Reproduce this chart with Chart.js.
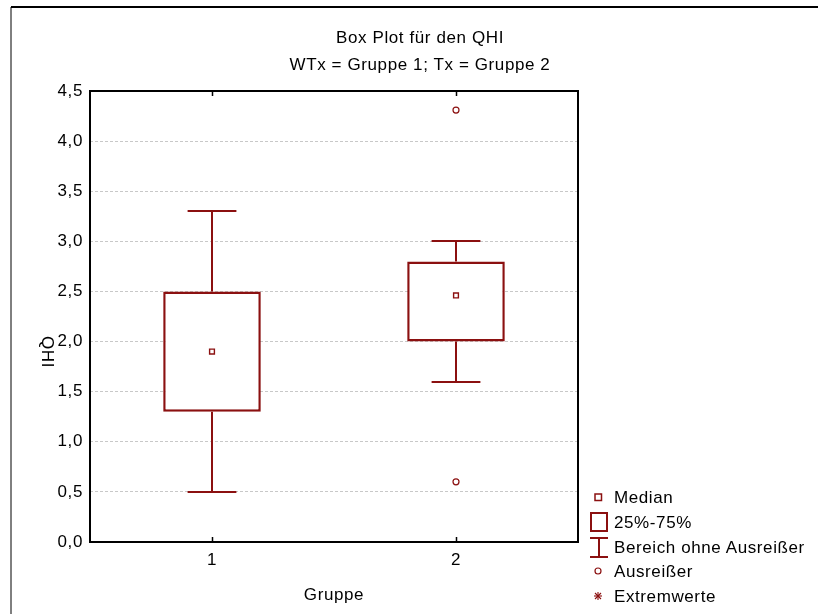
<!DOCTYPE html>
<html>
<head>
<meta charset="utf-8">
<script src="https://cdn.jsdelivr.net/npm/chart.js@4"></script>
<style>
  html, body { margin: 0; padding: 0; background: #fff; }
  #wrap { position: relative; width: 818px; height: 614px; overflow: hidden; }
  #c { position: absolute; left: 0; top: 0; }
  #ov { position: absolute; left: 0; top: 0; pointer-events: none; }
  #ov text { font-family: "Liberation Sans", Arial, sans-serif; font-size: 17px; letter-spacing: 0.6px; fill: #000; }
</style>
</head>
<body>
<div id="wrap">
  <canvas id="c" width="818" height="614"></canvas>
  <svg id="ov" width="818" height="614" xmlns="http://www.w3.org/2000/svg">
    <line x1="11" y1="7" x2="818" y2="7" stroke="#000" stroke-width="2"/>
    <line x1="11" y1="7" x2="11" y2="614" stroke="#000" stroke-width="1"/>
    <text x="420" y="37" text-anchor="middle" dominant-baseline="central">Box Plot für den QHI</text>
    <text x="420" y="64" text-anchor="middle" dominant-baseline="central">WTx = Gruppe 1; Tx = Gruppe 2</text>
    <text transform="translate(47,352) rotate(90)" text-anchor="middle" dominant-baseline="central">QHI</text>
    <!-- legend icons -->
    <rect x="595" y="494" width="6.5" height="6.5" fill="#fff" stroke="#8b1010" stroke-width="1.5"/>
    <rect x="591" y="513" width="16" height="18" fill="#fff" stroke="#8b1010" stroke-width="2"/>
    <line x1="590" y1="538" x2="608" y2="538" stroke="#8b1010" stroke-width="2"/>
    <line x1="599" y1="538" x2="599" y2="557" stroke="#8b1010" stroke-width="2"/>
    <line x1="590" y1="557" x2="608" y2="557" stroke="#8b1010" stroke-width="2"/>
    <circle cx="598" cy="571" r="3" fill="#fff" stroke="#8b1010" stroke-width="1.2"/>
    <g stroke="#8b1010" stroke-width="1.1">
      <line x1="594" y1="596" x2="602" y2="596"/>
      <line x1="598" y1="592" x2="598" y2="600"/>
      <line x1="595" y1="593" x2="601" y2="599"/>
      <line x1="601" y1="593" x2="595" y2="599"/>
    </g>
    <text x="614" y="497" dominant-baseline="central">Median</text>
    <text x="614" y="522" dominant-baseline="central">25%-75%</text>
    <text x="614" y="547" dominant-baseline="central">Bereich ohne Ausreißer</text>
    <text x="614" y="571" dominant-baseline="central">Ausreißer</text>
    <text x="614" y="596" dominant-baseline="central">Extremwerte</text>
  </svg>
</div>
<script>
// ---- data ----
const categories = ['1', '2'];
const q1Values = [1.3, 2.0];
const q3Values = [2.5, 2.8];
const medianValues = [1.9, 2.46];
const whiskerLow = [0.5, 1.6];
const whiskerHigh = [3.3, 3.0];
const outlierCategories = ['2', '2'];
const outlierValues = [4.31, 0.6];
const yTickValues = [0, 0.5, 1, 1.5, 2, 2.5, 3, 3.5, 4, 4.5];

const BOX_COLOR = '#8b1010';
const FONT = '"Liberation Sans", Arial, sans-serif';

const spacingPlugin = {
  id: 'spacing',
  beforeLayout(chart) { chart.ctx.letterSpacing = '0.6px'; },
  beforeDraw(chart) { chart.ctx.letterSpacing = '0.6px'; }
};

const boxExtras = {
  id: 'boxExtras',
  afterDatasetsDraw(chart) {
    const ctx = chart.ctx;
    const xs = chart.scales.x, ys = chart.scales.y;
    const catW = xs.width / categories.length;
    const capHalf = catW * 0.1;
    ctx.save();
    ctx.strokeStyle = BOX_COLOR;
    ctx.lineWidth = 2;
    ctx.setLineDash([]);
    categories.forEach((c, i) => {
      const x = Math.round(xs.getPixelForValue(i));
      const yLo = Math.round(ys.getPixelForValue(whiskerLow[i]));
      const yHi = Math.round(ys.getPixelForValue(whiskerHigh[i]));
      const yQ1 = ys.getPixelForValue(q1Values[i]);
      const yQ3 = ys.getPixelForValue(q3Values[i]);
      ctx.beginPath();
      ctx.moveTo(x, yQ3); ctx.lineTo(x, yHi);
      ctx.moveTo(x - capHalf, yHi); ctx.lineTo(x + capHalf, yHi);
      ctx.moveTo(x, yQ1); ctx.lineTo(x, yLo);
      ctx.moveTo(x - capHalf, yLo); ctx.lineTo(x + capHalf, yLo);
      ctx.stroke();
    });
    ctx.restore();
  },
  afterDraw(chart) {
    const ctx = chart.ctx;
    const a = chart.chartArea;
    const xs = chart.scales.x;
    ctx.save();
    ctx.strokeStyle = '#000';
    ctx.lineWidth = 2;
    ctx.setLineDash([]);
    ctx.strokeRect(a.left, a.top, a.right - a.left, a.bottom - a.top);
    ctx.beginPath();
    categories.forEach((c, i) => {
      const x = Math.round(xs.getPixelForValue(i)) + 0.5;
      ctx.moveTo(x, a.top); ctx.lineTo(x, a.top + 5);
      ctx.moveTo(x, a.bottom); ctx.lineTo(x, a.bottom - 5);
    });
    ctx.lineWidth = 1.5;
    ctx.stroke();
    ctx.restore();
  }
};

new Chart(document.getElementById('c'), {
  data: {
    labels: categories,
    datasets: [
      {
        type: 'bar',
        label: '25%-75%',
        data: q1Values.map((v, i) => [v, q3Values[i]]),
        backgroundColor: '#ffffff',
        borderColor: BOX_COLOR,
        borderWidth: 2.5,
        borderSkipped: false,
        barPercentage: 0.4,
        categoryPercentage: 1.0,
        order: 3
      },
      {
        type: 'line',
        label: 'Median',
        data: medianValues,
        showLine: false,
        pointStyle: 'rect',
        pointRadius: 3.4,
        pointBackgroundColor: '#ffffff',
        pointBorderColor: BOX_COLOR,
        pointBorderWidth: 1.4,
        order: 1
      },
      {
        type: 'line',
        label: 'Ausreißer',
        data: outlierCategories.map((c, i) => ({ x: c, y: outlierValues[i] })),
        showLine: false,
        pointStyle: 'circle',
        pointRadius: 3,
        pointBackgroundColor: '#ffffff',
        pointBorderColor: BOX_COLOR,
        pointBorderWidth: 1.2,
        order: 1
      }
    ]
  },
  options: {
    responsive: false,
    animation: false,
    devicePixelRatio: 1,
    layout: { padding: { left: 10, right: 240, top: 91, bottom: 0 } },
    plugins: {
      legend: { display: false },
      tooltip: { enabled: false },
      title: { display: false }
    },
    scales: {
      x: {
        type: 'category',
        offset: true,
        grid: { display: false, drawTicks: false },
        border: { display: false },
        ticks: { color: '#000', font: { family: FONT, size: 17 }, padding: 8 },
        title: { display: true, text: 'Gruppe', color: '#000', font: { family: FONT, size: 17 }, padding: { top: 0, bottom: 8 } },
        afterFit(scale) { scale.height = 72; }
      },
      y: {
        type: 'linear',
        min: 0,
        max: 4.5,
        afterBuildTicks(scale) { scale.ticks = yTickValues.map(v => ({ value: v })); },
        grid: { color: '#c8c8c8', lineWidth: 1, drawTicks: false },
        border: { display: false, dash: [3, 2] },
        ticks: {
          color: '#000',
          font: { family: FONT, size: 17 },
          padding: 7,
          callback: v => v.toFixed(1).replace('.', ',')
        },
        afterFit(scale) { scale.width = 80; }
      }
    }
  },
  plugins: [spacingPlugin, boxExtras]
});
</script>
</body>
</html>
